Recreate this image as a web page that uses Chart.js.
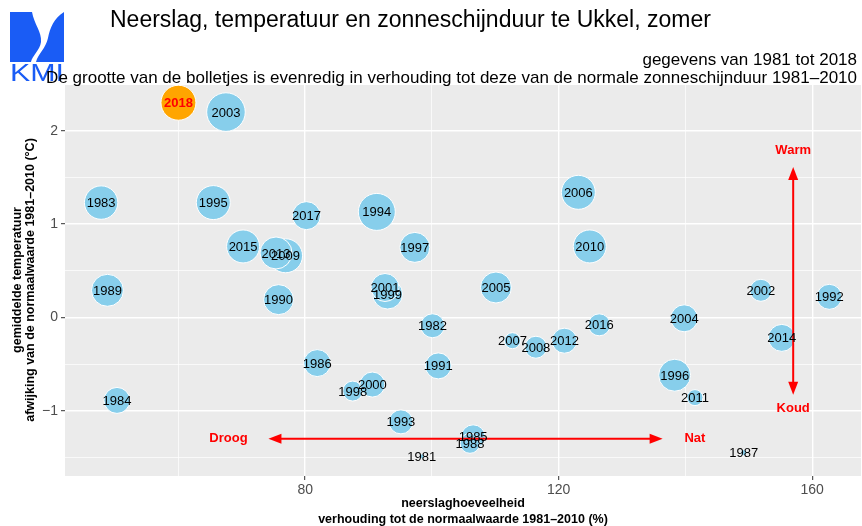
<!DOCTYPE html>
<html>
<head>
<meta charset="utf-8">
<script src="https://cdn.jsdelivr.net/npm/chart.js@4.4.1/dist/chart.umd.min.js"></script>
<style>
  html, body { margin: 0; padding: 0; background: #fff; }
  #wrap { position: relative; width: 862px; height: 526px; font-family: "Liberation Sans", Arial, sans-serif; }
  #chart { position: absolute; left: 0; top: 0; }
  .txt { position: absolute; white-space: nowrap; color: #000; }
  #title { left: 110px; top: 6px; font-size: 23px; line-height: 27px; }
  #sub1, #sub2 { right: 5px; font-size: 17px; line-height: 19px; }
  #sub1 { top: 50px; }
  #sub2 { top: 68px; }
  #xtitle { left: 263px; width: 400px; top: 495px; text-align: center; font-size: 12.5px; font-weight: bold; line-height: 16px; }
  #ytitle { left: 24px; top: 280px; width: 400px; text-align: center; font-size: 12.5px; font-weight: bold; line-height: 13px;
            transform: translate(-50%, -50%) rotate(-90deg); }
  #logo { position: absolute; left: 8px; top: 10px; }
</style>
</head>
<body>
<div id="wrap">
  <canvas id="chart" width="862" height="526"></canvas>
  <svg id="logo" width="58" height="72" viewBox="0 0 58 72">
    <path d="M2 2 H24 C26 14 34 22 33 32 C32 40 24 46 23 52 H2 Z" fill="#1a5cf5"/>
    <path d="M56 2 V52 H28 C30 44 38 38 40 28 C42 18 46 8 56 2 Z" fill="#1a5cf5"/>
    <text x="29" y="71" text-anchor="middle" textLength="54" lengthAdjust="spacingAndGlyphs" font-family="Liberation Sans, Arial, sans-serif" font-size="24" fill="#1a5cf5">KMI</text>
  </svg>
  <div class="txt" id="title">Neerslag, temperatuur en zonneschijnduur te Ukkel, zomer</div>
  <div class="txt" id="sub1">gegevens van 1981 tot 2018</div>
  <div class="txt" id="sub2">De grootte van de bolletjes is evenredig in verhouding tot deze van de normale zonneschijnduur 1981–2010</div>
  <div class="txt" id="xtitle">neerslaghoeveelheid<br>verhouding tot de normaalwaarde 1981–2010 (%)</div>
  <div class="txt" id="ytitle">gemiddelde temperatuur<br>afwijking van de normaalwaarde 1981–2010 (°C)</div>
</div>
<script>
// ── Data (gelezen van de grafiek) ───────────────────────────
const years = [1981, 1982, 1983, 1984, 1985, 1986, 1987, 1988, 1989, 1990,
               1991, 1992, 1993, 1994, 1995, 1996, 1997, 1998, 1999, 2000,
               2001, 2002, 2003, 2004, 2005, 2006, 2007, 2008, 2009, 2010,
               2011, 2012, 2013, 2014, 2015, 2016, 2017, 2018];
// neerslag, % van de normaalwaarde
const precip = [98.4, 100.1, 47.8, 50.3, 106.5, 81.9, 149.2, 106.0, 48.8, 75.8,
                101.0, 162.7, 95.1, 91.3, 65.5, 138.3, 97.3, 87.5, 93.0, 90.6,
                92.6, 151.9, 67.5, 139.8, 110.1, 123.1, 112.7, 116.4, 76.9, 124.9,
                141.5, 120.9, 75.4, 155.2, 70.2, 126.4, 80.2, 60.0];
// temperatuur, afwijking in °C
const temp = [-1.49, -0.09, 1.23, -0.89, -1.28, -0.49, -1.45, -1.35, 0.29, 0.19,
              -0.52, 0.22, -1.12, 1.13, 1.23, -0.62, 0.75, -0.79, 0.25, -0.72,
              0.32, 0.29, 2.20, -0.01, 0.32, 1.34, -0.25, -0.32, 0.66, 0.76,
              -0.86, -0.25, 0.69, -0.22, 0.76, -0.08, 1.09, 2.30];
// zonneschijnduur, % van de normaalwaarde (geschat uit de grootte)
const sunshine = [75.3, 94.0, 112.4, 97.4, 94.0, 99.2, 75.7, 88.0, 109.2, 105.0,
                  97.4, 95.7, 94.0, 120.9, 113.7, 109.2, 105.0, 88.0, 105.0, 95.7,
                  101.1, 90.9, 125.0, 99.2, 107.1, 113.7, 83.2, 90.9, 113.7, 111.4,
                  83.2, 95.7, 109.2, 99.2, 111.4, 90.9, 101.1, 116.0];

const xMajor = [80, 120, 160];
const xTicks = [60, 80, 100, 120, 140, 160];
const yTicks = [-1.5, -1, -0.5, 0, 0.5, 1, 1.5, 2];
const yMajor = [-1, 0, 1, 2];

const highlightYear = 2018;

// pijlen en teksten (in data-coördinaten)
const arrowsH = [{ y: -1.30, x1: 74.2, x2: 136.4 }];
const arrowsV = [{ x: 157.0, y1: 1.61, y2: -0.83 }];
const notes = [
  { text: 'Droog', x: 67.9, y: -1.30 },
  { text: 'Nat',   x: 141.5, y: -1.30 },
  { text: 'Warm',  x: 157.0, y: 1.79 },
  { text: 'Koud',  x: 157.0, y: -0.975 }
];

// oppervlakte evenredig met zonneschijnduur
function sunToR(s) {
  return Math.sqrt(4 + (s - 75) / 50 * 368);
}

const points = years.map((yr, i) => ({ x: precip[i], y: temp[i], r: sunToR(sunshine[i]), year: yr }));

const FONT = '"Liberation Sans", Arial, sans-serif';

// ── Plugins ─────────────────────────────────────────────────
const panelBg = {
  id: 'panelBg',
  beforeDraw(chart) {
    const { ctx, chartArea: a } = chart;
    ctx.save();
    ctx.fillStyle = '#EBEBEB';
    ctx.fillRect(a.left, a.top, a.right - a.left, a.bottom - a.top);
    ctx.restore();
  }
};

function arrowHead(ctx, x, y, ang) {
  const len = 13, half = 5;
  ctx.beginPath();
  ctx.moveTo(x, y);
  ctx.lineTo(x - len * Math.cos(ang) + half * Math.sin(ang), y - len * Math.sin(ang) - half * Math.cos(ang));
  ctx.lineTo(x - len * Math.cos(ang) - half * Math.sin(ang), y - len * Math.sin(ang) + half * Math.cos(ang));
  ctx.closePath();
  ctx.fill();
}

const annotations = {
  id: 'annotations',
  afterDatasetsDraw(chart) {
    const { ctx, scales: { x, y } } = chart;
    ctx.save();
    ctx.strokeStyle = '#FF0000';
    ctx.fillStyle = '#FF0000';
    ctx.lineWidth = 2;
    arrowsH.forEach(a => {
      const py = y.getPixelForValue(a.y);
      const p1 = x.getPixelForValue(a.x1), p2 = x.getPixelForValue(a.x2);
      ctx.beginPath(); ctx.moveTo(p1 + 8, py); ctx.lineTo(p2 - 8, py); ctx.stroke();
      arrowHead(ctx, p1, py, Math.PI);
      arrowHead(ctx, p2, py, 0);
    });
    arrowsV.forEach(a => {
      const px = x.getPixelForValue(a.x);
      const p1 = y.getPixelForValue(a.y1), p2 = y.getPixelForValue(a.y2);
      ctx.beginPath(); ctx.moveTo(px, p1 + 8); ctx.lineTo(px, p2 - 8); ctx.stroke();
      arrowHead(ctx, px, p1, -Math.PI / 2);
      arrowHead(ctx, px, p2, Math.PI / 2);
    });
    ctx.font = 'bold 13px ' + FONT;
    ctx.textAlign = 'center';
    ctx.textBaseline = 'middle';
    notes.forEach(n => ctx.fillText(n.text, x.getPixelForValue(n.x), y.getPixelForValue(n.y)));

    // jaartallen op de bolletjes
    const meta = chart.getDatasetMeta(0);
    meta.data.forEach((el, i) => {
      const hl = years[i] === highlightYear;
      ctx.font = (hl ? 'bold ' : '') + '13px ' + FONT;
      ctx.fillStyle = hl ? '#FF0000' : '#000000';
      ctx.fillText(String(years[i]), el.x, el.y + 1);
    });
    ctx.restore();
  }
};

// ── Chart ───────────────────────────────────────────────────
new Chart(document.getElementById('chart'), {
  type: 'bubble',
  data: {
    datasets: [{
      data: points,
      backgroundColor: ctx => (years[ctx.dataIndex] === highlightYear ? '#FFA500' : '#87CEEB'),
      borderColor: '#FFFFFF',
      borderWidth: 1,
      hoverRadius: 0
    }]
  },
  options: {
    responsive: false,
    animation: false,
    events: [],
    clip: false,
    layout: { autoPadding: false, padding: { top: 85, right: 1, left: 0, bottom: 0 } },
    plugins: { legend: { display: false }, tooltip: { enabled: false } },
    scales: {
      x: {
        type: 'linear',
        min: 42.1, max: 167.7,
        afterBuildTicks: s => { s.ticks = xTicks.map(v => ({ value: v })); },
        afterFit: s => { s.height = 50; },
        border: { display: false },
        grid: {
          color: '#FFFFFF',
          lineWidth: c => (xMajor.includes(c.tick?.value) ? 1.4 : 0.7),
          tickColor: c => (xMajor.includes(c.tick?.value) ? '#333333' : 'rgba(0,0,0,0)'),
          tickLength: 4,
          tickWidth: 1
        },
        ticks: {
          autoSkip: false, maxRotation: 0, padding: 2,
          color: '#4D4D4D', font: { family: FONT, size: 14 },
          callback: v => (xMajor.includes(v) ? String(v) : '')
        }
      },
      y: {
        type: 'linear',
        min: -1.70, max: 2.49,
        afterBuildTicks: s => { s.ticks = yTicks.map(v => ({ value: v })); },
        afterFit: s => { s.width = 65; },
        border: { display: false },
        grid: {
          color: '#FFFFFF',
          lineWidth: c => (yMajor.includes(c.tick?.value) ? 1.4 : 0.7),
          tickColor: c => (yMajor.includes(c.tick?.value) ? '#333333' : 'rgba(0,0,0,0)'),
          tickLength: 4,
          tickWidth: 1
        },
        ticks: {
          autoSkip: false, padding: 3,
          color: '#4D4D4D', font: { family: FONT, size: 14 },
          callback: v => (yMajor.includes(v) ? (v < 0 ? '\u2212' + Math.abs(v) : String(v)) : '')
        }
      }
    }
  },
  plugins: [panelBg, annotations]
});
</script>
</body>
</html>
